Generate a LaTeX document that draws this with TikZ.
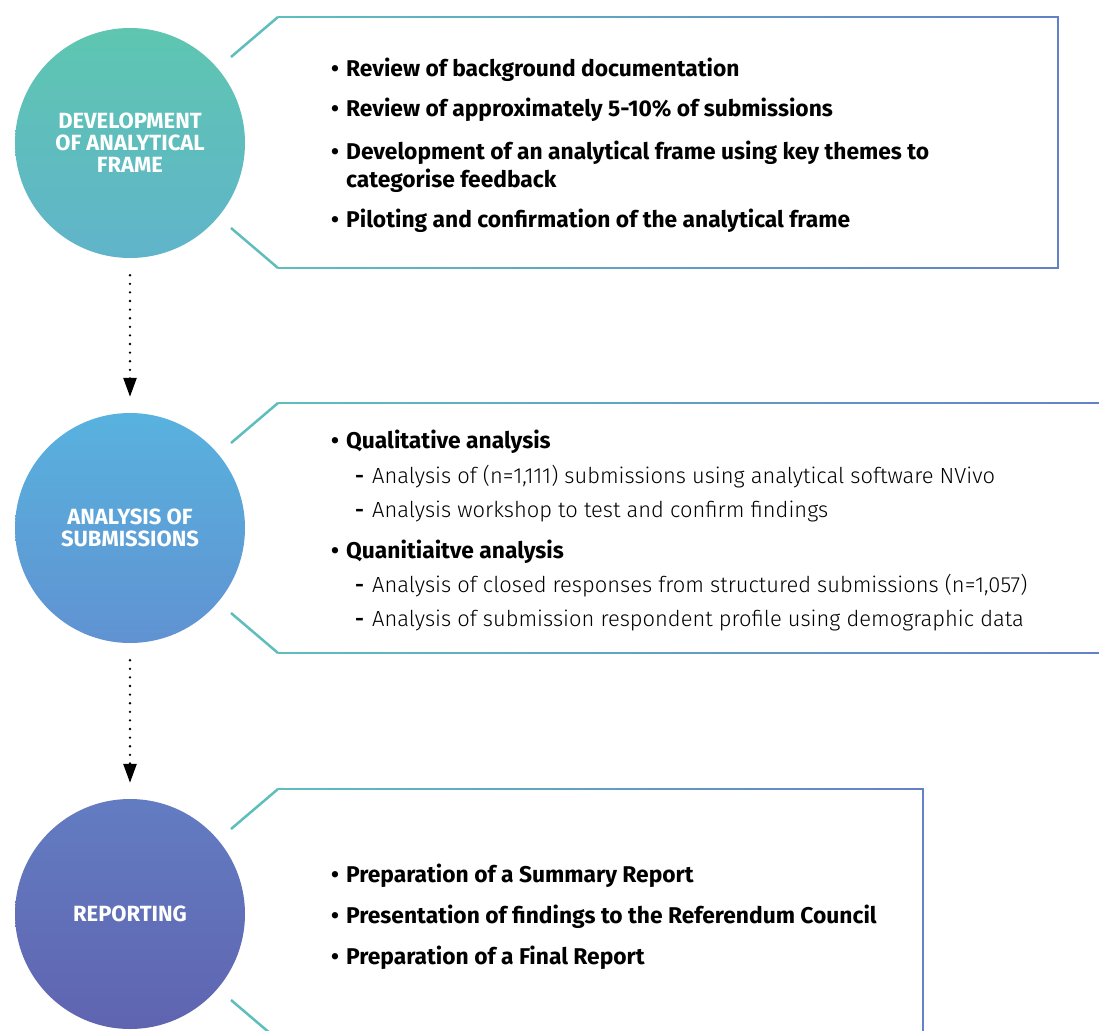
\documentclass[tikz,border=0pt]{standalone}
\usepackage{fontspec}
\setmainfont{Fira Sans}
\newfontfamily\lightfont{Fira Sans Light}
\usetikzlibrary{arrows.meta,positioning}
\definecolor{framestart}{RGB}{94,190,190}
\definecolor{frameend}{RGB}{100,128,200}
\definecolor{devtop}{RGB}{94,198,176}
\definecolor{devbot}{RGB}{96,180,202}
\definecolor{anatop}{RGB}{88,178,222}
\definecolor{anabot}{RGB}{96,146,210}
\definecolor{reptop}{RGB}{98,124,194}
\definecolor{repbot}{RGB}{96,100,176}
\tikzset{>=Triangle,
	stage/.style={circle,minimum size=230pt,inner sep=0pt,align=center,text=white,
		font=\bfseries\fontsize{22}{22}\selectfont},
	flow/.style={line width=2.6pt,line cap=round,dash pattern=on 0pt off 8.6pt,
		-{Triangle[length=19pt,width=13pt]},shorten <=17pt,shorten >=16pt},
	framel/.style={line width=2.5pt},
	point/.style={anchor=base west,inner sep=0pt,align=left,
		font=\bfseries\fontsize{22.8}{28}\selectfont},
	subpoint/.style={anchor=base west,inner sep=0pt,
		font=\lightfont\fontsize{21.9}{28}\selectfont}}
\newcommand\itm[1]{\makebox[15pt][l]{\textbullet}#1}
\newcommand\subitm[1]{\makebox[17pt][l]{\bfseries -}#1}
% bracket frame: top y, bottom y, right x
\newcommand\stageframe[3]{%
	\draw[framel,framestart] (231,#1+40) -- (278,#1);
	\draw[framel,framestart] (231,#2-40) -- (278,#2);
	\foreach \i in {0,...,39}{
		\pgfmathsetmacro\xa{278+(#3-278)/40*\i}
		\pgfmathsetmacro\xb{278+(#3-278)/40*(\i+1)+0.5}
		\pgfmathsetmacro\mix{100/39*\i}
		\draw[framel,color=frameend!\mix!framestart] (\xa,#1) -- (\xb,#1);
		\draw[framel,color=frameend!\mix!framestart] (\xa,#2) -- (\xb,#2);
	}
	\draw[framel,frameend] (#3,#1) -- (#3,#2);
}

\begin{document}
\begin{tikzpicture}[x=1pt,y=-1pt]
	\clip (0,0) rectangle (1099,1030);
	\fill[white] (0,0) rectangle (1099,1030);
	% stages
	\node (dev) at (130,143) [stage,top color=devtop,bottom color=devbot] {DEVELOPMENT\\OF ANALYTICAL\\FRAME};
	\node (ana) at (130,528) [stage,top color=anatop,bottom color=anabot] {ANALYSIS OF\\SUBMISSIONS};
	\node (rep) at (130,914) [stage,top color=reptop,bottom color=repbot] {REPORTING};
	\draw [flow] (dev) -- (ana);
	\draw [flow] (ana) -- (rep);
	% frames
	\stageframe{17}{268}{1058}
	\stageframe{403}{653}{1110}
	\stageframe{789}{1040}{923}
	% development
	\node (d1) at (331,77) [point] {\itm{Review of background documentation}};
	\node (d2) at (331,117) [point] {\itm{Review of approximately 5-10\% of submissions}};
	\node (d3) at (331,187) [point] {\itm{Development of an analytical frame using key themes to}\\\hspace*{15pt}categorise feedback};
	\node (d4) at (331,227) [point] {\itm{Piloting and confirmation of the analytical frame}};
	% analysis
	\node (a1) at (331,448) [point] {\itm{Qualitative analysis}};
	\node (a11) at (355,483) [subpoint] {\subitm{Analysis of (n=1,111) submissions using analytical software NVivo}};
	\node (a12) at (355,517) [subpoint] {\subitm{Analysis workshop to test and confirm findings}};
	\node (a2) at (331,558) [point] {\itm{Quanitiaitve analysis}};
	\node (a21) at (355,592) [subpoint] {\subitm{Analysis of closed responses from structured submissions (n=1,057)}};
	\node (a22) at (355,626) [subpoint] {\subitm{Analysis of submission respondent profile using demographic data}};
	% reporting
	\node (r1) at (331,882) [point] {\itm{Preparation of a Summary Report}};
	\node (r2) at (331,923) [point] {\itm{Presentation of findings to the Referendum Council}};
	\node (r3) at (331,964) [point] {\itm{Preparation of a Final Report}};
\end{tikzpicture}
\end{document}
